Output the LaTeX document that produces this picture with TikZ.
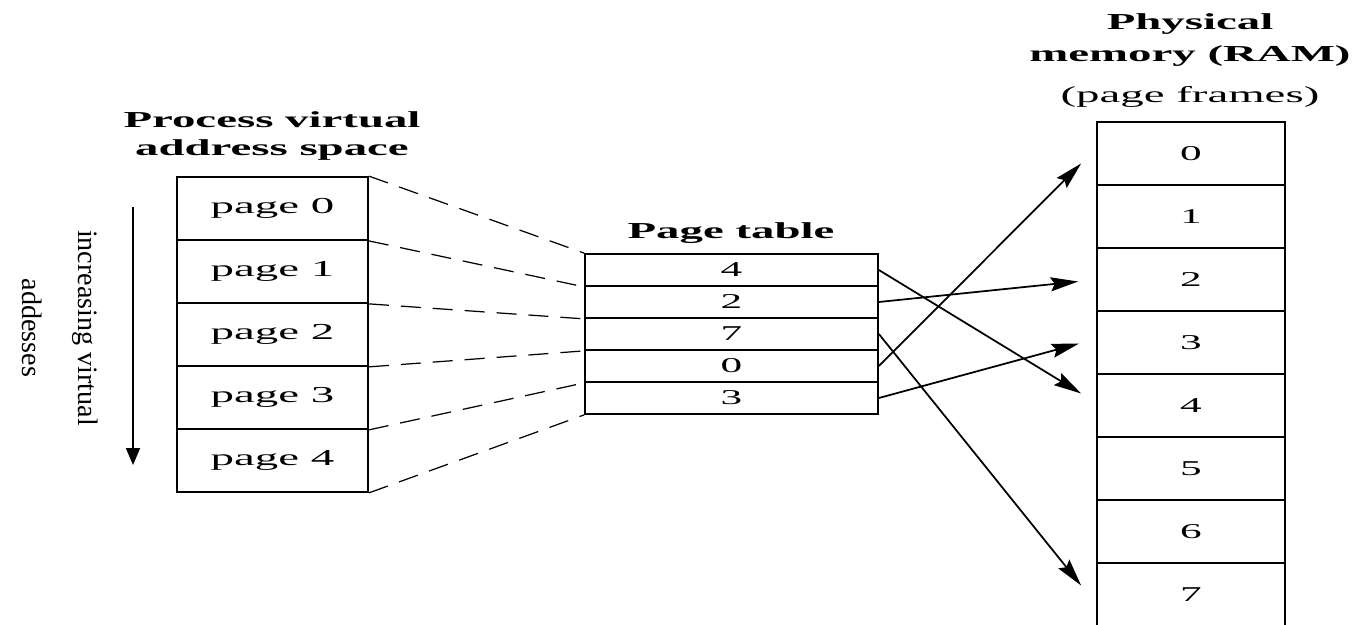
\documentclass[tikz,border=0pt]{standalone}
\usepackage{fontspec}
\setmainfont{Liberation Serif}
\newfontfamily\widefont{Liberation Serif}[FakeStretch=2.05]
\usepackage{tikz}
\usetikzlibrary{arrows.meta, positioning, calc}

\begin{document}
\begin{tikzpicture}[
  cell/.style={draw, line width=1pt, inner sep=0pt},
  vcell/.style={cell, minimum width=3.82cm, minimum height=1.26cm, font=\widefont\fontsize{13}{15}\selectfont},
  tcell/.style={cell, minimum width=5.86cm, minimum height=0.64cm, font=\widefont\fontsize{12}{13}\selectfont},
  fcell/.style={cell, minimum width=3.76cm, minimum height=1.26cm, font=\widefont\fontsize{12}{14}\selectfont},
  heading/.style={align=center, font=\widefont\bfseries\fontsize{13}{16}\selectfont},
  map/.style={dash pattern=on 0.4cm off 0.24cm, line width=0.7pt},
  ptr/.style={-{Stealth[length=0.55cm, width=0.28cm, inset=0.08cm]}, line width=1pt}
]
  \useasboundingbox (0,0) rectangle (27.16,-12.5);

  % Virtual address space
  \node[heading] (vtitle) at (5.44, -2.72) {Process virtual\\address space};
  \foreach \i in {0,...,4}
    \node[vcell] (v\i) at (5.45, -4.17-1.26*\i) {page \i};

  \node[rotate=-90, align=center, font=\fontsize{16}{32}\selectfont] (dir) at (1.2, -6.56) {increasing virtual\\addesses};
  \coordinate (dtop) at (2.66, -4.14);
  \coordinate (dbot) at (2.66, -9.3);
  \draw[-{Triangle[length=0.34cm, width=0.28cm]}, line width=1.1pt] (dtop) -- (dbot);

  % Page table
  \node[heading] (ttitle) at (14.62, -4.66) {Page table};
  \foreach \val [count=\i from 0] in {4,2,7,0,3}
    \node[tcell] (t\i) at (14.63, -5.40-0.64*\i) {\val};

  % Physical memory
  \node[heading, font=\widefont\bfseries\fontsize{13}{18}\selectfont] (ptitle) at (23.8, -0.8) {Physical\\memory (RAM)};
  \node[font=\widefont\fontsize{13}{15}\selectfont] (psub) at (23.8, -1.94) {(page frames)};
  \foreach \i in {0,...,7}
    \node[fcell] (f\i) at (23.82, -3.07-1.26*\i) {\i};

  % Pages to entries
  \draw[map] (v0.north east) -- (t0.north west);
  \foreach \i in {0,...,4}
    \draw[map] (v\i.south east) -- (t\i.south west);

  % Entries to frames
  \draw[ptr] (t0.east) -- ([xshift=-0.3cm, yshift=0.24cm]f4.west);
  \draw[ptr] (t1.east) -- ([xshift=-0.36cm, yshift=-0.04cm]f2.west);
  \draw[ptr] (t2.east) -- ([xshift=-0.3cm, yshift=0.18cm]f7.west);
  \draw[ptr] (t3.east) -- ([xshift=-0.3cm, yshift=-0.2cm]f0.west);
  \draw[ptr] (t4.east) -- ([xshift=-0.34cm, yshift=-0.02cm]f3.west);
\end{tikzpicture}
\end{document}
